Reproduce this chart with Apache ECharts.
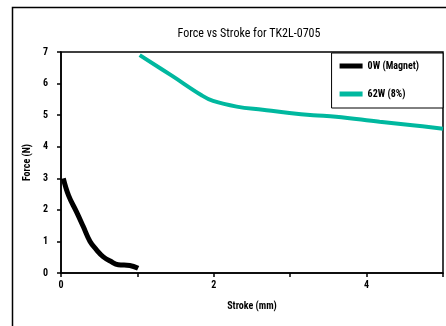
<!DOCTYPE html>
<html><head><meta charset="utf-8">
<script src="https://cdn.jsdelivr.net/npm/echarts@6/dist/echarts.min.js"></script>
<style>html,body{margin:0;padding:0;background:#fff}#c{width:446px;height:326px}</style>
</head><body><div id="c"></div>
<script>
const seriesNames = ['0W (Magnet)', '62W (8%)'];
const magnetData = [[0.03,3.0],[0.1,2.45],[0.2,1.95],[0.29,1.48],[0.38,1.0],[0.47,0.72],[0.55,0.52],[0.65,0.37],[0.75,0.26],[0.9,0.24],[1.01,0.15]];
const powerData = [[1.03,6.9],[1.45,6.25],[1.84,5.63],[1.99,5.45],[2.3,5.27],[2.64,5.17],[2.99,5.07],[3.3,5.0],[3.6,4.95],[4.17,4.79],[4.6,4.68],[5.0,4.57]];
const xTicks = [0,1,2,3,4,5];
const yTicks = [0,1,2,3,4,5,6,7];
const FONT = '"Roboto Condensed", "Open Sans Condensed", sans-serif';
const chart = echarts.init(document.getElementById('c'));
chart.setOption({
  animation:false,
  backgroundColor:'#fff',
  graphic:[{type:'rect', left:10, top:5, shape:{width:520, height:400}, style:{fill:'none', stroke:'#000', lineWidth:1.5}, z:0}],
  title:{text:'Force vs Stroke for TK2L-0705', left:244, top:23, textAlign:'center',
    textStyle:{fontFamily:FONT, fontSize:12, fontWeight:'normal', color:'#000'}},
  legend:{orient:'vertical', right:3, top:53, itemWidth:23, itemHeight:5, itemGap:18,
    padding:[8,24,9,8], borderColor:'#000', borderWidth:1, icon:'rect', backgroundColor:'#fff',
    textStyle:{fontFamily:FONT, fontSize:10, fontWeight:'bold', color:'#000'}, data:seriesNames},
  grid:{left:61, top:52, right:3, bottom:53, show:true, borderColor:'#000', borderWidth:1.5},
  xAxis:{type:'value', min:xTicks[0], max:xTicks[xTicks.length-1], interval:1,
    name:'Stroke (mm)', nameLocation:'middle', nameGap:28,
    nameTextStyle:{fontFamily:FONT, fontSize:10, fontWeight:'bold', color:'#000'},
    axisLine:{lineStyle:{color:'#000', width:1.5}}, axisTick:{length:4, lineStyle:{color:'#000', width:1.5}},
    axisLabel:{fontFamily:FONT, fontSize:10, fontWeight:'bold', color:'#000', margin:7,
      formatter:v=> (v%2===0 ? String(v) : '')}, splitLine:{show:false}},
  yAxis:{type:'value', min:yTicks[0], max:yTicks[yTicks.length-1], interval:1,
    name:'Force (N)', nameLocation:'middle', nameGap:24,
    nameTextStyle:{fontFamily:FONT, fontSize:10, fontWeight:'bold', color:'#000'},
    axisLine:{show:true, lineStyle:{color:'#000', width:1.5}}, axisTick:{show:true, length:4, lineStyle:{color:'#000', width:1.5}},
    axisLabel:{fontFamily:FONT, fontSize:10, fontWeight:'bold', color:'#000', margin:13}, splitLine:{show:false}},
  series:[
    {name:seriesNames[0], type:'line', data:magnetData, smooth:0.4, symbol:'none', color:'#000', lineStyle:{width:5, color:'#000'}},
    {name:seriesNames[1], type:'line', data:powerData, smooth:0.4, symbol:'none', color:'#00b89f', lineStyle:{width:4, color:'#00b89f'}}
  ]
});
</script></body></html>
